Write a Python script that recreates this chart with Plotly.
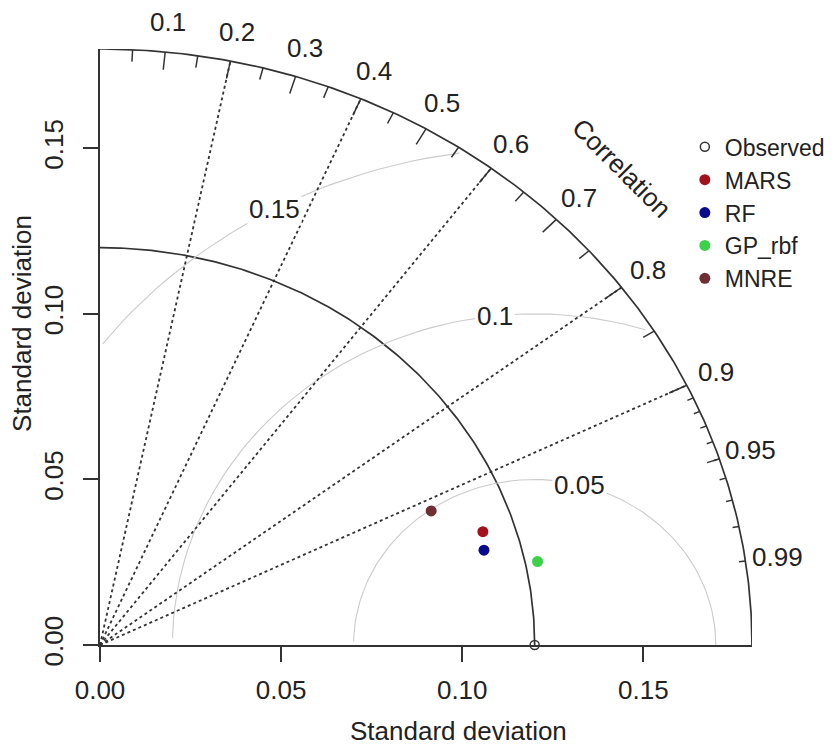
import numpy as np
import plotly.graph_objects as go

# ---------------- data ----------------
models = ["MARS", "RF", "GP_rbf", "MNRE"]
model_sd = [0.1111, 0.1098, 0.1234, 0.1000]
model_cor = [0.9514, 0.9654, 0.9789, 0.9143]
model_colors = ["#A3121C", "#0A0A8C", "#3DD14A", "#6E2E34"]
obs_name = "Observed"
obs_sd = 0.12
max_sd = 0.18
corr_lines = [0.2, 0.4, 0.6, 0.8, 0.9]
corr_label_vals = [0.1, 0.2, 0.3, 0.4, 0.5, 0.6, 0.7, 0.8, 0.9, 0.95, 0.99]
corr_label_text = ["0.1", "0.2", "0.3", "0.4", "0.5", "0.6", "0.7", "0.8", "0.9", "0.95", "0.99"]
gamma_levels = [0.05, 0.10, 0.15]
gamma_text = ["0.05", "0.1", "0.15"]
gamma_label_idx = [45, 57, 70]
sd_ticks = [0.00, 0.05, 0.10, 0.15]
sd_tick_text = ["0.00", "0.05", "0.10", "0.15"]
axis_title = "Standard deviation"

FONT = "Liberation Sans"
FS = 26
INK = "#222222"


def paper(v):
    # axis range is [0, max_sd] on both axes, mapped to the full domain
    return v / max_sd


def label(x, y, text, **kw):
    d = dict(x=x, y=y, text=text, xref="paper", yref="paper", showarrow=False,
             xanchor="center", yanchor="middle",
             font=dict(family=FONT, size=FS, color=INK))
    d.update(kw)
    return d


fig = go.Figure()

# outer arc and reference arc
th = np.linspace(0, np.pi / 2, 200)
for r in (max_sd, obs_sd):
    fig.add_trace(go.Scatter(x=r * np.cos(th), y=r * np.sin(th), mode="lines",
                             line=dict(color="#333333", width=1.7),
                             showlegend=False, hoverinfo="skip", cliponaxis=False))

# centred RMS (gamma) curves, as in plotrix
tg = np.arange(0, np.pi, 0.03)
ann = []
for g, gt, li in zip(gamma_levels, gamma_text, gamma_label_idx):
    xc = np.cos(tg) * g + obs_sd
    yc = np.sin(tg) * g
    neg = np.where(xc < 0)[0]
    end = neg.min() if len(neg) else len(xc)
    out = np.where(xc ** 2 + yc ** 2 > max_sd ** 2)[0]
    start = out.max() + 1 if len(out) else 0
    fig.add_trace(go.Scatter(x=xc[start:end], y=yc[start:end], mode="lines",
                             line=dict(color="#CBCBCB", width=1.1),
                             showlegend=False, hoverinfo="skip"))
    t = (li - 1) * 0.03
    ann.append(label(paper(obs_sd + g * np.cos(t)), paper(g * np.sin(t)), gt,
                     bgcolor="white", borderpad=1))

# dotted correlation rays
rx, ry = [], []
for c in corr_lines:
    rx += [0, max_sd * c, None]
    ry += [0, max_sd * np.sqrt(1 - c ** 2), None]
fig.add_trace(go.Scatter(x=rx, y=ry, mode="lines",
                         line=dict(color="#333333", width=1.8, dash="dot"),
                         showlegend=False, hoverinfo="skip"))


# ticks on the correlation arc
def tick_trace(vals, frac):
    xs, ys = [], []
    for v in vals:
        a = np.arccos(v)
        xs += [np.cos(a) * max_sd, np.cos(a) * frac * max_sd, None]
        ys += [np.sin(a) * max_sd, np.sin(a) * frac * max_sd, None]
    return go.Scatter(x=xs, y=ys, mode="lines", line=dict(color="#333333", width=1.5),
                      showlegend=False, hoverinfo="skip", cliponaxis=False)


fig.add_trace(tick_trace(np.round(np.arange(0.1, 0.91, 0.1), 2), 0.97))
fig.add_trace(tick_trace(np.round(np.arange(0.05, 0.96, 0.1), 2), 0.98))
fig.add_trace(tick_trace(np.round(np.arange(0.91, 0.995, 0.01), 2), 0.99))

# observed point
fig.add_trace(go.Scatter(x=[obs_sd], y=[0], mode="markers", name=obs_name,
                         marker=dict(symbol="circle-open", size=9, color="#333333",
                                     line=dict(width=1.5)),
                         cliponaxis=False))

# model points
for m, s, c, col in zip(models, model_sd, model_cor, model_colors):
    fig.add_trace(go.Scatter(x=[s * c], y=[s * np.sqrt(1 - c ** 2)], mode="markers", name=m,
                             marker=dict(symbol="circle", size=11, color=col),
                             cliponaxis=False))

for v, t in zip(corr_label_vals, corr_label_text):
    a = np.arccos(v)
    ann.append(label(paper(np.cos(a) * 1.05 * max_sd), paper(np.sin(a) * 1.05 * max_sd), t))
ann.append(label(0.8, 0.8, "Correlation", textangle=45))
ann.append(label(paper(0.099), paper(-0.0259), axis_title))
ann.append(label(paper(-0.0215), paper(0.097), axis_title, textangle=-90))

axis_common = dict(range=[0, max_sd], showgrid=False, zeroline=False, showline=True,
                   linecolor="#333333", linewidth=1.7, ticks="outside", ticklen=15,
                   tickwidth=1.5, tickcolor="#333333", tickvals=sd_ticks,
                   ticktext=sd_tick_text, fixedrange=True, automargin=False,
                   tickfont=dict(family=FONT, size=FS, color=INK))

fig.update_layout(
    width=830, height=740,
    margin=dict(l=92, r=86, t=41, b=103, autoexpand=False),
    paper_bgcolor="white", plot_bgcolor="white",
    xaxis=dict(**axis_common, ticklabelstandoff=6),
    yaxis=dict(**axis_common, tickangle=-90, ticklabelstandoff=10),
    annotations=ann,
    showlegend=True,
    legend=dict(x=0.897, y=0.872, xanchor="left", yanchor="top",
                font=dict(family=FONT, size=23, color=INK),
                bgcolor="rgba(0,0,0,0)", tracegroupgap=0),
)

fig.write_html("out.html")
